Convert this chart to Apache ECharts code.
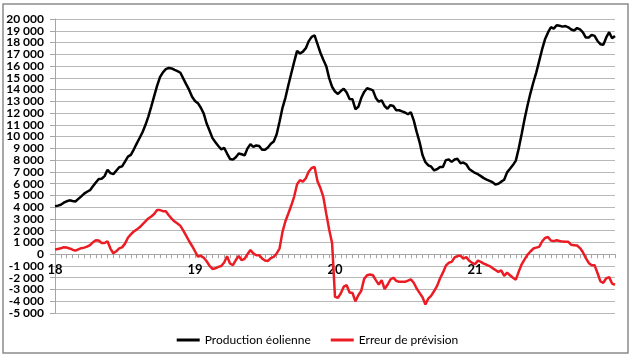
<!DOCTYPE html>
<html>
<head>
<meta charset="utf-8">
<script src="https://cdn.jsdelivr.net/npm/echarts@6/dist/echarts.min.js"></script>
<style>
html,body{margin:0;padding:0;background:#fff;}
#chart{width:635px;height:362px;}
</style>
</head>
<body>
<div id="chart"></div>
<script>
// Day tick labels (one label every 48 half-hourly points)
const dayLabels = ['18', '19', '20', '21'];
// Half-hourly categories, 18 00:00 .. 22 00:00
const categories = [];
for (let d = 0; d < 4; d++) for (let m = 0; m < 48; m++) categories.push(dayLabels[d] + ' ' + Math.floor(m / 2) + (m % 2 ? ':30' : ':00'));
categories.push('22 0:00');

// Production éolienne (MW), half-hourly
const production = [
  4080, 4130, 4210, 4380, 4500, 4580, 4520, 4480, 4700, 4920,
  5150, 5310, 5440, 5770, 6100, 6390, 6420, 6640, 7180, 6890,
  6810, 7100, 7390, 7470, 7880, 8300, 8450, 8900, 9400, 9880,
  10370, 10980, 11700, 12550, 13440, 14310, 15050, 15470, 15730, 15840,
  15800, 15670, 15570, 15430, 14930, 14440, 13970, 13390, 13030, 12840,
  12450, 11950, 11110, 10490, 9870, 9520, 9200, 8920, 9040, 8560,
  8100, 8040, 8250, 8560, 8500, 8400, 9000, 9350, 9120, 9250,
  9200, 8880, 8890, 9080, 9390, 9590, 10200, 11280, 12450, 13300,
  14370, 15370, 16350, 17290, 17070, 17230, 17520, 18120, 18480, 18600,
  17870, 17130, 16530, 15990, 14970, 14240, 13830, 13630, 13870, 14070,
  13750, 13200, 13170, 12330, 12530, 13280, 13800, 14110, 14030, 13930,
  13290, 12970, 13080, 12600, 12370, 12680, 12600, 12240, 12240, 12140,
  12050, 11900, 12080, 11380, 10400, 9530, 8440, 7820, 7560, 7440,
  7120, 7230, 7420, 7420, 8000, 8050, 7850, 8050, 8110, 7740,
  7790, 7650, 7250, 7080, 6910, 6800, 6640, 6470, 6340, 6240,
  6120, 5930, 5990, 6170, 6330, 6960, 7260, 7580, 7960, 9000,
  10220, 11500, 12650, 13680, 14600, 15440, 16420, 17410, 18270, 18840,
  19300, 19180, 19470, 19420, 19350, 19400, 19290, 19110, 19020, 19230,
  19120, 18860, 18420, 18430, 18650, 18560, 18130, 17860, 17800, 18430,
  18880, 18360, 18560
];

// Erreur de prévision (MW), half-hourly
const erreur = [
  400, 450, 500, 590, 570, 490, 380, 300, 410, 510,
  560, 640, 770, 1010, 1180, 1160, 960, 950, 1100, 480,
  80, 250, 500, 580, 900, 1400, 1680, 1930, 2090, 2290,
  2540, 2790, 3040, 3210, 3420, 3750, 3750, 3660, 3650, 3310,
  3030, 2780, 2610, 2410, 2000, 1550, 1100, 700, 250, -200,
  -130, -300, -600, -1000, -1250, -1200, -1080, -1000, -700, -180,
  -790, -920, -500, -150, -510, -390, 0, 360, 70, -85,
  -85, -360, -530, -575, -330, -230, 60, 500, 1900, 2800,
  3460, 4140, 4900, 5950, 6300, 6170, 6460, 7030, 7330, 7410,
  6200, 5620, 4870, 3450, 2100, 950, -3630, -3700, -3320, -2760,
  -2640, -3260, -3300, -4000, -3490, -3110, -2100, -1790, -1720, -1790,
  -2200, -2580, -2210, -2960, -2600, -2150, -2000, -2260, -2350, -2350,
  -2350, -2250, -2140, -2430, -2920, -3290, -3660, -4270, -3770, -3520,
  -3130, -2700, -2070, -1570, -980, -730, -650, -280, -160, -120,
  -370, -250, -550, -730, -850, -550, -650, -800, -900, -1010,
  -1180, -1340, -1500, -1380, -1850, -1570, -1790, -2000, -2160, -1480,
  -860, -440, -50, 230, 480, 560, 620, 1080, 1380, 1460,
  1160, 1110, 1190, 1120, 1070, 1050, 1050, 800, 770, 740,
  520, 170, -330, -740, -940, -940, -1600, -2310, -2430, -2050,
  -1950, -2500, -2600
];

const chart = echarts.init(document.getElementById('chart'), null, {renderer: 'canvas'});
const fmt = v => {
  const s = Math.abs(v).toString();
  const t = s.length > 3 ? s.slice(0, s.length - 3) + ' ' + s.slice(s.length - 3) : s;
  return (v < 0 ? '-' : '') + t;
};
const isEven = v => Math.round(v / 1000) % 2 === 0;
const labelStyle = {fontFamily: 'Lato', fontWeight: 'bold', fontSize: 12, color: '#000', margin: 11,
                    showMinLabel: true, showMaxLabel: true, hideOverlap: false};
chart.setOption({
  animation: false,
  backgroundColor: '#ffffff',
  graphic: [{
    type: 'rect', shape: {x: 3, y: 4, width: 625, height: 349},
    style: {fill: 'none', stroke: '#8c8c8c', lineWidth: 1.5}, z: -1
  }],
  grid: {left: 55, right: 20, top: 19, bottom: 49, containLabel: false},
  legend: {
    bottom: 11, left: 'center',
    itemWidth: 23, itemHeight: 3, itemGap: 20, icon: 'rect',
    textStyle: {fontFamily: 'Lato', fontSize: 12, color: '#000'},
    data: ['Production éolienne', 'Erreur de prévision']
  },
  xAxis: {
    type: 'category', data: categories, boundaryGap: false,
    axisLine: {onZero: true, onZeroAxisIndex: 0, lineStyle: {color: '#a6a6a6', width: 1}},
    axisTick: {show: true, interval: (i) => i % 2 === 0, length: 4, lineStyle: {color: '#a6a6a6'}},
    axisLabel: {
      interval: (i) => i % 48 === 0 && i < 192,
      formatter: (v, i) => dayLabels[Math.floor(i / 48)],
      fontFamily: 'Lato', fontWeight: 'bold', fontSize: 13, color: '#000', margin: -50,
      hideOverlap: false
    },
    splitLine: {show: false}
  },
  yAxis: [{
    type: 'value', min: -5000, max: 20000, interval: 1000, position: 'left',
    axisLine: {show: true, onZero: false, lineStyle: {color: '#a6a6a6'}},
    axisTick: {show: true, length: 5, lineStyle: {color: '#a6a6a6'}},
    axisLabel: Object.assign({formatter: v => isEven(v) ? fmt(v) : ''}, labelStyle),
    splitLine: {lineStyle: {color: '#b8b8b8', width: 1}}
  }, {
    type: 'value', min: -5000, max: 20000, interval: 1000, position: 'left', offset: 0,
    axisLine: {show: false, onZero: false},
    axisTick: {show: false},
    axisLabel: Object.assign({formatter: v => isEven(v) ? '' : fmt(v)}, labelStyle),
    splitLine: {show: false}
  }],
  series: [
    {name: 'Production éolienne', type: 'line', data: production, symbol: 'none',
     lineStyle: {color: '#000000', width: 2.5}, itemStyle: {color: '#000000'}},
    {name: 'Erreur de prévision', type: 'line', data: erreur, symbol: 'none',
     lineStyle: {color: '#ec1c24', width: 2.5}, itemStyle: {color: '#ec1c24'}}
  ]
});
</script>
</body>
</html>
